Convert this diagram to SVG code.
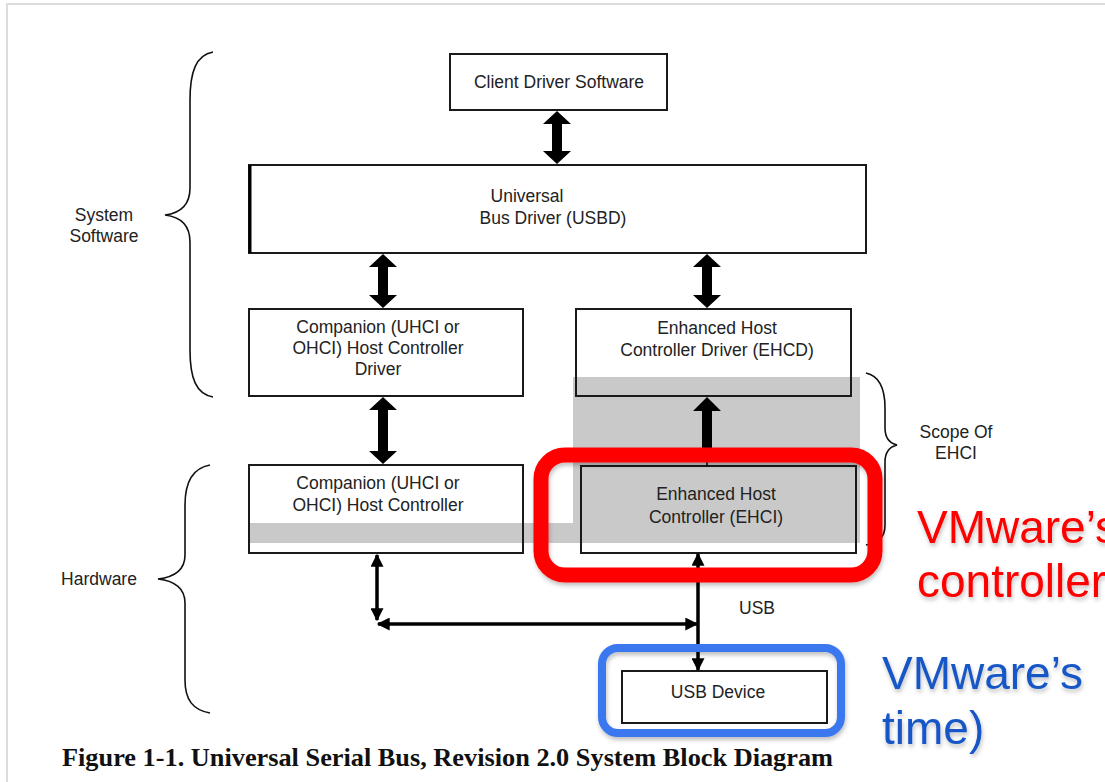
<svg xmlns="http://www.w3.org/2000/svg" width="1105" height="782" viewBox="0 0 1105 782">
<defs>
<style>
.box{fill:#fff;stroke:#1a1a1a;stroke-width:2}
.boxs{fill:none;stroke:#1a1a1a;stroke-width:2}
.lbl{font-family:"Liberation Sans",Arial,sans-serif;font-size:17.5px;fill:#222;text-anchor:middle}
.big{fill:#000}
.thin{stroke:#000;stroke-width:3.5;fill:none}
.brace{fill:none;stroke:#111;stroke-width:1.6}
.gray{fill:#c9c9c9}
.note{font-family:"Liberation Sans",Arial,sans-serif;font-size:46px}
</style>
<marker id="ah" viewBox="0 0 10 10" refX="9" refY="5" markerWidth="14" markerHeight="13" markerUnits="userSpaceOnUse" orient="auto-start-reverse">
<path d="M0,0 L10,5 L0,10 Z" fill="#000"/>
</marker>
<filter id="sh" x="-10%" y="-10%" width="120%" height="130%">
<feDropShadow dx="1" dy="3" stdDeviation="2" flood-color="#000" flood-opacity="0.25"/>
</filter>
</defs>
<rect width="1105" height="782" fill="#fff"/>
<rect x="7" y="4" width="1120" height="800" fill="none" stroke="#dcdcdc" stroke-width="2"/>

<g id="brace-system">
<path class="brace" d="M213,52 C196,55 190,72 190,100 L190,188 C190,205 181,213 165,215 C181,217 190,225 190,242 L190,350 C190,378 196,394 213,397"/>
<text class="lbl" x="104" y="221">System</text>
<text class="lbl" x="104" y="242">Software</text>
</g>
<g id="brace-hardware">
<path class="brace" d="M210,465 C193,468 185,482 185,505 L185,555 C185,570 175,577 158,579 C175,581 185,588 185,603 L185,680 C185,700 193,710 210,713"/>
<text class="lbl" x="99" y="585">Hardware</text>
</g>

<g id="scope-gray">
<rect class="gray" x="573" y="377" width="287" height="166"/>
<rect class="gray" x="249" y="523" width="324" height="20"/>
</g>

<g id="client-driver">
<rect class="box" x="450" y="54" width="217" height="56"/>
<text class="lbl" x="559" y="88">Client Driver Software</text>
</g>
<g id="usbd">
<rect class="box" x="249" y="165" width="617" height="88"/>
<line x1="250" y1="165" x2="250" y2="253" stroke="#000" stroke-width="3"/>
<text class="lbl" x="527" y="202">Universal</text>
<text class="lbl" x="553" y="224">Bus Driver (USBD)</text>
</g>
<g id="companion-driver">
<rect class="box" x="249" y="309" width="274" height="87"/>
<text class="lbl" x="378" y="333">Companion (UHCI or</text>
<text class="lbl" x="378" y="354">OHCI) Host Controller</text>
<text class="lbl" x="378" y="375">Driver</text>
</g>
<g id="ehcd">
<rect class="box" x="576" y="309" width="275" height="87"/>
<rect class="gray" x="577" y="377" width="273" height="18"/>
<rect class="boxs" x="576" y="309" width="275" height="87"/>
<text class="lbl" x="717" y="334">Enhanced Host</text>
<text class="lbl" x="717" y="356">Controller Driver (EHCD)</text>
</g>
<g id="companion-hc">
<rect class="box" x="249" y="465" width="274" height="88"/>
<rect class="gray" x="250" y="523" width="272" height="20"/>
<rect class="boxs" x="249" y="465" width="274" height="88"/>
<text class="lbl" x="378" y="489">Companion (UHCI or</text>
<text class="lbl" x="378" y="511">OHCI) Host Controller</text>
</g>
<g id="ehci">
<rect class="box" x="581" y="466" width="275" height="87"/>
<rect class="gray" x="582" y="467" width="273" height="76"/>
<rect class="boxs" x="581" y="466" width="275" height="87"/>
<text class="lbl" x="716" y="500">Enhanced Host</text>
<text class="lbl" x="716" y="523">Controller (EHCI)</text>
</g>
<g id="usb-device">
<rect class="box" x="622" y="671" width="205" height="52"/>
<text class="lbl" x="718" y="698">USB Device</text>
</g>

<g id="scope-brace">
<path class="brace" d="M866,373 C880,376 885,390 885,408 L885,428 C885,438 889,443 897,445 C889,447 885,452 885,462 L885,525 C885,538 878,543 866,545"/>
<text class="lbl" x="956" y="438">Scope Of</text>
<text class="lbl" x="956" y="459">EHCI</text>
</g>

<g id="connectors">
<path class="big" d="M557,111 L571,124 L562,124 L562,151 L571,151 L557,164 L543,151 L552,151 L552,124 L543,124 Z"/>
<path class="big" d="M383,254 L397,267 L388,267 L388,295 L397,295 L383,308 L369,295 L378,295 L378,267 L369,267 Z"/>
<path class="big" d="M707,254 L721,267 L712,267 L712,295 L721,295 L707,308 L693,295 L702,295 L702,267 L693,267 Z"/>
<path class="big" d="M383,397 L397,410 L388,410 L388,451 L397,451 L383,464 L369,451 L378,451 L378,410 L369,410 Z"/>
<path class="big" d="M707,397 L721,411 L712,411 L712,462 L702,462 L702,411 L693,411 Z"/>
<line x1="707" y1="462" x2="707" y2="466" stroke="#000" stroke-width="1.5"/>
<line class="thin" x1="377" y1="555" x2="377" y2="620" marker-start="url(#ah)" marker-end="url(#ah)"/>
<line class="thin" x1="378" y1="624" x2="697" y2="624" marker-start="url(#ah)" marker-end="url(#ah)"/>
<line class="thin" x1="698" y1="554" x2="698" y2="670" marker-start="url(#ah)" marker-end="url(#ah)"/>
<text class="lbl" x="757" y="614">USB</text>
</g>

<g id="highlights" filter="url(#sh)">
<rect x="541" y="455" width="334" height="120" rx="24" fill="none" stroke="#ff0000" stroke-width="15"/>
<rect x="602" y="648" width="239" height="85" rx="16" fill="none" stroke="#3b78ef" stroke-width="8"/>
</g>

<g id="notes" filter="url(#sh)">
<text class="note" x="917" y="543" fill="#ff0000">VMware’s</text>
<text class="note" x="917" y="597" fill="#ff0000">controller</text>
<text class="note" x="882" y="689" fill="#1857c6">VMware’s</text>
<text class="note" x="882" y="744" fill="#1857c6">time)</text>
</g>

<g id="caption">
<text x="62" y="766" font-family="'Liberation Serif','Times New Roman',serif" font-weight="bold" font-size="25" fill="#111" textLength="771" lengthAdjust="spacingAndGlyphs">Figure 1-1. Universal Serial Bus, Revision 2.0 System Block Diagram</text>
</g>
</svg>
